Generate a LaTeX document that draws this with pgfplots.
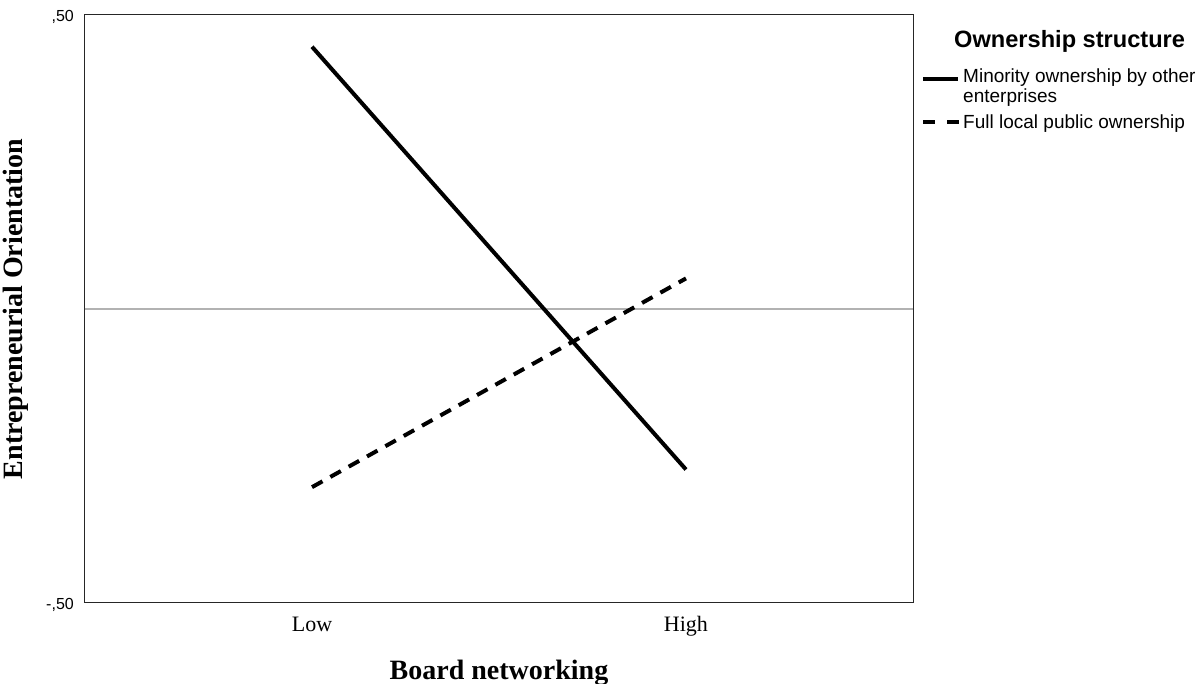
\documentclass[border=0pt]{standalone}
\usepackage{fontspec}
\setmainfont{Liberation Serif}
\newfontfamily\arial{Liberation Sans}
\usepackage{pgfplots}
\pgfplotsset{compat=1.18}
\begin{document}
\begin{tikzpicture}
\useasboundingbox (-85pt,-81pt) rectangle (1114pt,603pt);
\begin{axis}[
  at={(0pt,0pt)}, anchor=south west,
  scale only axis, width=828pt, height=588pt,
  xmin=-0.607, xmax=1.607, ymin=-0.5, ymax=0.5,
  xtick={0,1}, xticklabels={Low,High},
  ytick={-0.5,0.5}, yticklabels={{-,50},{,50}},
  major tick length=0pt,
  axis line style={line width=1pt, black!85},
  xticklabel style={font=\fontsize{22}{26}\selectfont, anchor=base, inner sep=0pt, yshift=-29pt},
  yticklabel style={font=\arial\fontsize{16}{19}\selectfont, anchor=east, inner sep=0pt, xshift=-11pt, yshift=-2pt},
  extra y ticks={0}, extra y tick labels={},
  extra y tick style={grid=major, major grid style={color=black!30, line width=1.2pt}},
  xlabel={Board networking},
  xlabel style={font=\bfseries\fontsize{28}{33}\selectfont, at={(axis description cs:0.5,-0.1293)}, anchor=base, inner sep=0pt},
  ylabel={Entrepreneurial Orientation},
  ylabel style={font=\bfseries\fontsize{28}{33}\selectfont, at={(axis description cs:-0.0749,0.5)}, anchor=base, inner sep=0pt},
  legend style={at={(axis description cs:1.0097,0.9116)}, anchor=north west, draw=none, fill=none, inner sep=0pt,
    row sep=0pt, font=\arial\fontsize{19}{21}\selectfont,
    cells={anchor=base west, inner sep=0pt}},
  legend cell align=left,
]
\addplot[black, line width=4pt, forget plot] coordinates {(0,0.446) (1,-0.273)};
\addplot[black, line width=4pt, dash pattern=on 12pt off 9pt, forget plot] coordinates {(0,-0.303) (1,0.052)};
\addlegendimage{legend image code/.code={\draw[black, line width=4pt] (0pt,-2pt) -- (35pt,-2pt); \path[draw=none] (35pt,-2pt);}}
\addlegendentry{Minority ownership by other}
\addlegendimage{legend image code/.code={\path[draw=none] (0pt,-2pt) (35pt,-2pt);}}
\addlegendentry{enterprises}
\addlegendimage{legend image code/.code={\draw[black, line width=4pt, dash pattern=on 12pt off 12pt] (0pt,-3pt) -- (36pt,-3pt); \path[draw=none] (35pt,-2pt);}}
\addlegendentry{\rule{0pt}{21pt}Full local public ownership}
\end{axis}
\node[anchor=base west, inner sep=0pt, font=\arial\bfseries\fontsize{23.6}{28}\selectfont] at (869pt,555pt) {Ownership structure};
\end{tikzpicture}
\end{document}
